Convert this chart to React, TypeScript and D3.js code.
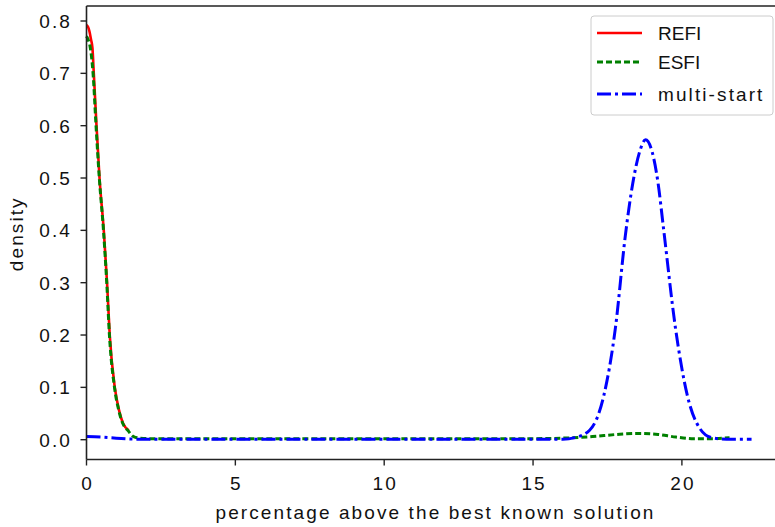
import React, { useRef, useEffect } from 'react';
import * as d3 from 'd3';

interface Pt {
  x: number;
  y: number;
}

// REFI kernel density (red, solid)
const refiX = [0, 0.05, 0.1, 0.15, 0.2, 0.245, 0.336, 0.437, 0.58, 0.69, 0.78, 0.95, 1.09, 1.23, 1.42];
const refiY = [0.792, 0.789, 0.78, 0.765, 0.748, 0.7, 0.6, 0.5, 0.4, 0.3, 0.2, 0.1, 0.057, 0.031, 0.018];

// ESFI kernel density (green, dashed)
const esfiX = [0, 0.05, 0.13, 0.22, 0.32, 0.43, 0.57, 0.68, 0.77, 0.94, 1.08, 1.22, 1.4, 1.58, 1.8, 2.2, 4, 8, 12, 15, 16, 17, 17.8, 18.5, 19.2, 19.8, 20.4, 21, 21.6];
const esfiY = [0.771, 0.765, 0.748, 0.7, 0.6, 0.5, 0.4, 0.3, 0.2, 0.1, 0.057, 0.031, 0.017, 0.006, 0.003, 0.002, 0.002, 0.002, 0.002, 0.002, 0.003, 0.006, 0.01, 0.012, 0.01, 0.005, 0.002, 0.002, 0.004];

// multi-start kernel density (blue, dash-dot)
const multiX = [0, 0.5, 1, 1.7, 3, 8, 12, 16, 16.4, 16.9, 17.38, 17.77, 18.1, 18.35, 18.58, 18.78, 19.0, 19.2, 19.38, 19.78, 20.18, 20.62, 21.0, 21.5, 22.34];
const multiY = [0.006, 0.005, 0.003, 0.001, 0.001, 0.001, 0.001, 0.001, 0.004, 0.018, 0.085, 0.215, 0.39, 0.49, 0.55, 0.573, 0.55, 0.49, 0.405, 0.215, 0.085, 0.02, 0.004, 0.001, 0.001];

const xTicks = [0, 5, 10, 15, 20];
const yTicks = [0.0, 0.1, 0.2, 0.3, 0.4, 0.5, 0.6, 0.7, 0.8];

const seriesNames = ['REFI', 'ESFI', 'multi-start'];
const seriesColors = ['#ff0000', '#008000', '#0000ff'];
const seriesDash = [null, '6,3', '14,4,3,4'];

const zip = (xs: number[], ys: number[]): Pt[] => xs.map((x, i) => ({ x, y: ys[i] }));

const App: React.FC = () => {
  const svgRef = useRef<SVGSVGElement | null>(null);

  useEffect(() => {
    if (!svgRef.current) return;
    const width = 775;
    const height = 527;
    const font = '"Liberation Sans", Arial, sans-serif';
    const fs = 19;
    const ls = 2.1; // matplotlib raster text looks wide

    d3.select(svgRef.current).selectAll('*').remove();
    const svg = d3.select(svgRef.current)
      .attr('width', width)
      .attr('height', height)
      .style('font-family', font);

    const left = 86.5;
    const top = 6;
    const bottom = 459.5;

    const xScale = d3.scaleLinear().domain([0, 1]).range([left, left + 29.77]);
    const yScale = d3.scaleLinear().domain([0, 0.8]).range([439.7, 21]);

    // curves
    const line = d3.line<Pt>()
      .x(d => xScale(d.x))
      .y(d => yScale(d.y))
      .curve(d3.curveMonotoneX);

    const data = [zip(refiX, refiY), zip(esfiX, esfiY), zip(multiX, multiY)];
    data.forEach((pts, i) => {
      svg.append('path')
        .datum(pts)
        .attr('fill', 'none')
        .attr('stroke', seriesColors[i])
        .attr('stroke-width', i === 0 ? 2.6 : 3)
        .attr('stroke-dasharray', seriesDash[i])
        .attr('d', line);
    });

    // spines
    const axisColor = '#222';
    svg.append('line')
      .attr('x1', left).attr('x2', left)
      .attr('y1', top).attr('y2', bottom)
      .attr('stroke', axisColor).attr('stroke-width', 1.6);
    svg.append('line')
      .attr('x1', left).attr('x2', width)
      .attr('y1', top).attr('y2', top)
      .attr('stroke', axisColor).attr('stroke-width', 1.6);
    svg.append('line')
      .attr('x1', left).attr('x2', width)
      .attr('y1', bottom).attr('y2', bottom)
      .attr('stroke', axisColor).attr('stroke-width', 1.6);

    // y ticks
    yTicks.forEach(t => {
      const y = yScale(t);
      svg.append('line')
        .attr('x1', left - 6).attr('x2', left)
        .attr('y1', y).attr('y2', y)
        .attr('stroke', axisColor).attr('stroke-width', 1.4);
      svg.append('text')
        .attr('x', 72)
        .attr('y', y)
        .attr('dy', '0.36em')
        .attr('text-anchor', 'end')
        .attr('font-size', fs)
        .attr('letter-spacing', ls)
        .attr('fill', '#111')
        .text(t.toFixed(1));
    });

    // x ticks
    xTicks.forEach(t => {
      const x = xScale(t);
      svg.append('line')
        .attr('x1', x).attr('x2', x)
        .attr('y1', bottom).attr('y2', bottom + 6)
        .attr('stroke', axisColor).attr('stroke-width', 1.4);
      svg.append('text')
        .attr('x', x + 1)
        .attr('y', 489.5)
        .attr('text-anchor', 'middle')
        .attr('font-size', fs)
        .attr('letter-spacing', ls)
        .attr('fill', '#111')
        .text(String(t));
    });

    // axis labels
    svg.append('text')
      .attr('x', 435.5)
      .attr('y', 519)
      .attr('text-anchor', 'middle')
      .attr('font-size', fs)
      .attr('letter-spacing', ls)
      .attr('fill', '#111')
      .text('percentage above the best known solution');

    svg.append('text')
      .attr('transform', `translate(23,${(top + bottom) / 2 + 1}) rotate(-90)`)
      .attr('text-anchor', 'middle')
      .attr('font-size', fs)
      .attr('letter-spacing', ls)
      .attr('fill', '#111')
      .text('density');

    // legend
    const legend = svg.append('g');
    legend.append('rect')
      .attr('x', 591).attr('y', 16)
      .attr('width', 182).attr('height', 99)
      .attr('rx', 3)
      .attr('fill', 'white')
      .attr('fill-opacity', 0.8)
      .attr('stroke', '#cccccc')
      .attr('stroke-width', 1);

    const rowY = [33, 62, 94];
    seriesNames.forEach((name, i) => {
      legend.append('line')
        .attr('x1', 597).attr('x2', 642)
        .attr('y1', rowY[i]).attr('y2', rowY[i])
        .attr('stroke', seriesColors[i])
        .attr('stroke-width', i === 0 ? 2.6 : 3)
        .attr('stroke-dasharray', seriesDash[i]);
      legend.append('text')
        .attr('x', 658)
        .attr('y', rowY[i])
        .attr('dy', '0.36em')
        .attr('font-size', fs)
        .attr('letter-spacing', name === name.toUpperCase() ? 0 : ls)
        .attr('fill', '#111')
        .text(name);
    });
  }, []);

  return (
    <div style={{ position: 'absolute', left: 0, top: 0 }}>
      <svg ref={svgRef} style={{ display: 'block' }} />
    </div>
  );
};

export default App;
